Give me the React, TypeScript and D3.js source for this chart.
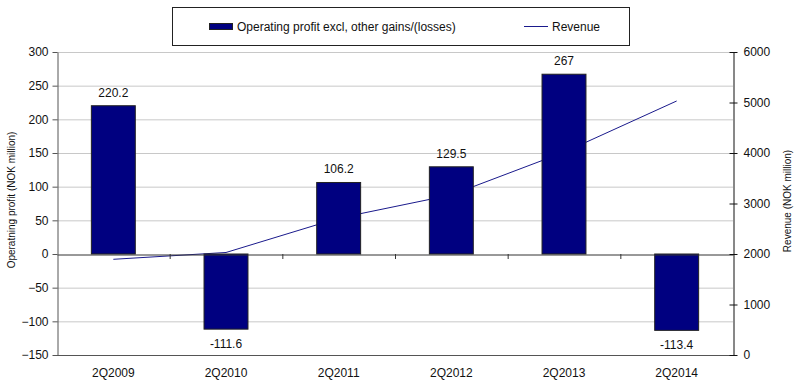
import React, { useEffect, useRef } from 'react';
import * as d3 from 'd3';

// chart data
const quarters = ['2Q2009', '2Q2010', '2Q2011', '2Q2012', '2Q2013', '2Q2014'];
const operatingProfit = [220.2, -111.6, 106.2, 129.5, 267, -113.4];
const revenue = [1895, 2030, 2710, 3170, 4015, 5030];
const leftTicks = [-150, -100, -50, 0, 50, 100, 150, 200, 250, 300];
const rightTicks = [0, 1000, 2000, 3000, 4000, 5000, 6000];

const App = () => {
  const svgRef = useRef<SVGSVGElement>(null);

  useEffect(() => {
    const svg = d3.select(svgRef.current);
    svg.selectAll('*').remove();

    const width = 800, height = 387;
    const margin = { top: 52, right: 67, bottom: 32, left: 57 };
    const font = 'Liberation Sans, Arial, sans-serif';

    const x = d3.scaleBand()
      .domain(quarters)
      .range([margin.left, width - margin.right])
      .paddingInner(0.61)
      .paddingOuter(0.305);
    const band = d3.scaleBand().domain(quarters).range([margin.left, width - margin.right]);

    const y = d3.scaleLinear().domain([-150, 300]).range([height - margin.bottom, margin.top]);
    const y2 = d3.scaleLinear().domain([0, 6000]).range([height - margin.bottom, margin.top]);

    svg.append('rect').attr('width', width).attr('height', height).attr('fill', '#fff');

    // gridlines
    svg.append('g')
      .selectAll('line')
      .data(leftTicks.filter(d => d !== 0 && d !== -150))
      .enter()
      .append('line')
      .attr('x1', margin.left)
      .attr('x2', width - margin.right)
      .attr('y1', d => y(d) + 0.5)
      .attr('y2', d => y(d) + 0.5)
      .attr('stroke', '#c8c8c8')
      .attr('stroke-width', 1);

    // revenue line (drawn behind the bars)
    const line = d3.line<number>()
      .x((d, i) => band(quarters[i])! + band.bandwidth() / 2)
      .y(d => y2(d));
    svg.append('path')
      .datum(revenue)
      .attr('d', line)
      .attr('fill', 'none')
      .attr('stroke', '#1a1a8c')
      .attr('stroke-width', 1);

    // bars
    svg.append('g')
      .selectAll('rect')
      .data(operatingProfit)
      .enter()
      .append('rect')
      .attr('x', (d, i) => x(quarters[i])!)
      .attr('y', d => y(Math.max(0, d)))
      .attr('width', x.bandwidth())
      .attr('height', d => Math.abs(y(d) - y(0)))
      .attr('fill', '#000080')
      .attr('stroke', '#222')
      .attr('stroke-width', 1);

    // value labels
    svg.append('g')
      .selectAll('text')
      .data(operatingProfit)
      .enter()
      .append('text')
      .attr('x', (d, i) => x(quarters[i])! + x.bandwidth() / 2)
      .attr('y', d => d >= 0 ? y(d) - 9 : y(d) + 19)
      .attr('text-anchor', 'middle')
      .attr('font-family', font)
      .attr('font-size', 12)
      .attr('fill', '#111')
      .text(d => String(d));

    // plot frame: bottom and top
    svg.append('line')
      .attr('x1', margin.left).attr('x2', width - margin.right)
      .attr('y1', y(-150) + 0.5).attr('y2', y(-150) + 0.5)
      .attr('stroke', '#555');
    svg.append('line')
      .attr('x1', margin.left).attr('x2', width - margin.right)
      .attr('y1', y(300) + 0.5).attr('y2', y(300) + 0.5)
      .attr('stroke', '#c8c8c8');

    // zero line with category ticks
    const zeroAxis = svg.append('g')
      .attr('transform', `translate(0,${y(0) + 0.5})`)
      .call(d3.axisBottom(band).tickSize(0).tickFormat(() => ''));
    zeroAxis.select('.domain').attr('stroke', '#333');
    zeroAxis.selectAll('.tick').remove();
    svg.append('g')
      .selectAll('line')
      .data(quarters.slice(1))
      .enter()
      .append('line')
      .attr('x1', d => band(d)! + 0.5)
      .attr('x2', d => band(d)! + 0.5)
      .attr('y1', y(0))
      .attr('y2', y(0) + 5)
      .attr('stroke', '#333');

    // category labels
    svg.append('g')
      .selectAll('text')
      .data(quarters)
      .enter()
      .append('text')
      .attr('x', d => band(d)! + band.bandwidth() / 2)
      .attr('y', height - margin.bottom + 22)
      .attr('text-anchor', 'middle')
      .attr('font-family', font)
      .attr('font-size', 12)
      .attr('fill', '#111')
      .text(d => d);

    // left axis
    const leftAxis = svg.append('g')
      .attr('transform', `translate(${margin.left + 0.5},0)`)
      .call(d3.axisLeft(y).tickValues(leftTicks).tickSize(5).tickSizeOuter(0).tickPadding(4));
    leftAxis.select('.domain').attr('stroke', '#555');
    leftAxis.selectAll('.tick line').attr('stroke', '#555');
    leftAxis.selectAll('.tick text')
      .attr('font-family', font)
      .attr('font-size', 12)
      .attr('fill', '#111');

    // right axis
    const rightAxis = svg.append('g')
      .attr('transform', `translate(${width - margin.right + 0.5},0)`)
      .call(d3.axisRight(y2).tickValues(rightTicks).tickFormat(d3.format('d')).tickSize(4).tickSizeOuter(0).tickPadding(6));
    rightAxis.select('.domain').attr('stroke', '#111');
    rightAxis.selectAll('.tick line').attr('x1', -4).attr('stroke', '#111');
    rightAxis.selectAll('.tick text')
      .attr('font-family', font)
      .attr('font-size', 12)
      .attr('fill', '#111');

    // axis titles
    svg.append('text')
      .attr('transform', 'translate(15,200) rotate(-90)')
      .attr('text-anchor', 'middle')
      .attr('font-family', font)
      .attr('font-size', 10)
      .attr('fill', '#111')
      .text('Operatning profit (NOK million)');
    svg.append('text')
      .attr('transform', 'translate(791,201) rotate(-90)')
      .attr('text-anchor', 'middle')
      .attr('font-family', font)
      .attr('font-size', 10)
      .attr('fill', '#111')
      .text('Revenue (NOK million)');

    // legend
    const legend = svg.append('g');
    legend.append('rect')
      .attr('x', 172.5).attr('y', 7.5)
      .attr('width', 457).attr('height', 38)
      .attr('fill', '#fff')
      .attr('stroke', '#222');
    legend.append('rect')
      .attr('x', 209.5).attr('y', 23.5)
      .attr('width', 23).attr('height', 6)
      .attr('fill', '#000080')
      .attr('stroke', '#222');
    legend.append('text')
      .attr('x', 237).attr('y', 31)
      .attr('font-family', font)
      .attr('font-size', 12)
      .attr('fill', '#111')
      .text('Operating profit excl, other gains/(losses)');
    legend.append('line')
      .attr('x1', 524).attr('x2', 548)
      .attr('y1', 26.5).attr('y2', 26.5)
      .attr('stroke', '#1a1a8c');
    legend.append('text')
      .attr('x', 552).attr('y', 31)
      .attr('font-family', font)
      .attr('font-size', 12)
      .attr('fill', '#111')
      .text('Revenue');
  }, []);

  return (
    <svg ref={svgRef} width={800} height={387} style={{ position: 'absolute', left: 0, top: 0 }} />
  );
};

export default App;
